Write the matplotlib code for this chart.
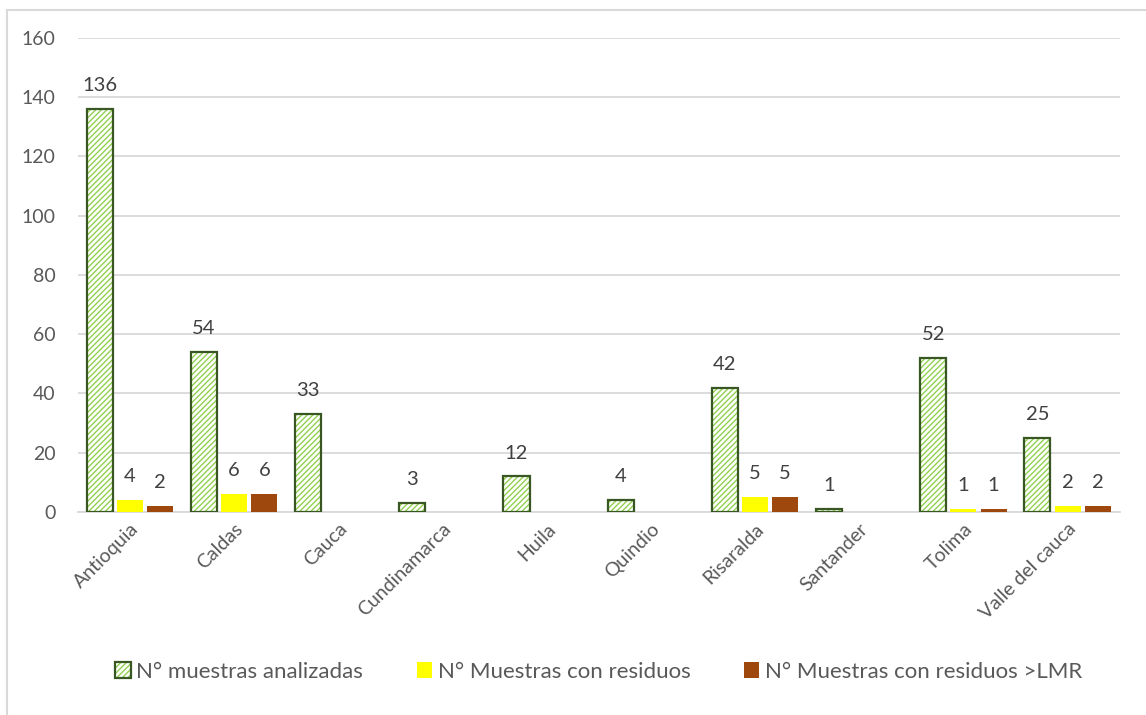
import matplotlib
matplotlib.use('Agg')
import matplotlib.pyplot as plt
import numpy as np
from matplotlib.lines import Line2D

plt.rcParams['font.family'] = ['Lato', 'DejaVu Sans']

# datos
departamentos = ['Antioquia', 'Caldas', 'Cauca', 'Cundinamarca', 'Huila',
                 'Quindio', 'Risaralda', 'Santander', 'Tolima', 'Valle del cauca']
analizadas = [136, 54, 33, 3, 12, 4, 42, 1, 52, 25]
con_residuos = [4, 6, 0, 0, 0, 0, 5, 0, 1, 2]
sobre_lmr = [2, 6, 0, 0, 0, 0, 5, 0, 1, 2]
series_labels = ['N° muestras analizadas', 'N° Muestras con residuos',
                 'N° Muestras con residuos >LMR']

TXT = '#595959'
GRID = '#d9d9d9'

fig = plt.figure(figsize=(11.46, 7.15), dpi=100)
ax = fig.add_axes([0.068, 0.284, 0.909, 0.663])

# borde del área del gráfico (izquierda y arriba)
fig.add_artist(Line2D([7/1146, 7/1146], [0, 1 - 10/715], color=GRID, lw=1.5))
fig.add_artist(Line2D([7/1146, 1], [1 - 10/715, 1 - 10/715], color=GRID, lw=1.5))

x = np.arange(len(departamentos))
w = 0.25
gap = 0.04
off = w + gap

b_hatch = ax.bar(x - off, analizadas, w, facecolor='white', edgecolor='#92d050',
                 hatch='//////', linewidth=0, zorder=3)
b_edge = ax.bar(x - off, analizadas, w, fill=False, edgecolor='#385723',
                linewidth=1.6, zorder=4)
b_yel = ax.bar(x, con_residuos, w, color='#ffff00', zorder=3)
b_brn = ax.bar(x + off, sobre_lmr, w, color='#9e480e', zorder=3)

for xs, vals in [(x - off, analizadas), (x, con_residuos), (x + off, sobre_lmr)]:
    for xi, v in zip(xs, vals):
        if v > 0:
            ax.text(xi, v + 5, str(v), ha='center', va='bottom',
                    fontsize=14.5, color='#404040')

ax.set_xlim(-0.5, len(departamentos) - 0.5)
ax.set_ylim(0, 160)
ax.set_yticks(range(0, 161, 20))
ax.grid(axis='y', color=GRID, linewidth=1.3, zorder=0)
ax.set_axisbelow(True)
for s in ['top', 'right', 'left']:
    ax.spines[s].set_visible(False)
ax.spines['bottom'].set_color(GRID)
ax.spines['bottom'].set_linewidth(1.3)
ax.tick_params(axis='both', length=0, colors=TXT, labelsize=14)
ax.tick_params(axis='y', pad=16)
ax.tick_params(axis='x', pad=6)
ax.set_xticks(x)
ax.set_xticklabels(departamentos, rotation=45, ha='right',
                   rotation_mode='anchor', fontsize=14)

ax.legend([(b_hatch, b_edge), b_yel, b_brn], series_labels,
          loc='center', bbox_to_anchor=(0.5, -0.337), ncol=3,
          frameon=False, fontsize=16, labelcolor=TXT, handlelength=0.7,
          handleheight=0.7, handletextpad=0.25, columnspacing=2.4)

fig.savefig('out.png', dpi=100)
